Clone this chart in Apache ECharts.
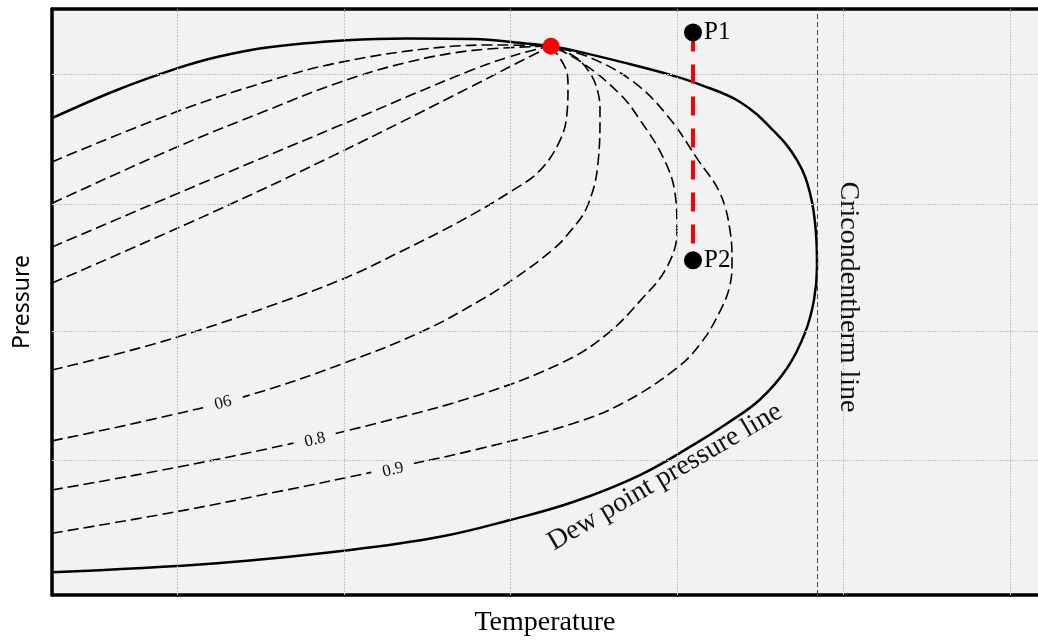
<!DOCTYPE html>
<html>
<head>
<meta charset="utf-8">
<script src="https://cdn.jsdelivr.net/npm/echarts@6/dist/echarts.min.js"></script>
<style>
  html, body { margin: 0; padding: 0; background: #fff; }
  #main { width: 1038px; height: 642px; }
</style>
</head>
<body>
<div id="main"></div>
<script>
// grid line positions (axis units)
const gridX = [12.5, 29.2, 45.8, 62.5, 79.1, 95.8]
const gridY = [22.5, 44.0, 65.2, 86.8]
const cricondentherm = 76.5

// phase envelope (bubble point + dew point curve)
const envelope = [
    [0, 79.5], [6.5, 84.2], [12.5, 87.8], [16.5, 89.7], [21.5, 91.3], [29.5, 92.5],
    [35.5, 92.8], [42.1, 92.7], [47.1, 92.0], [49.9, 91.5], [52.1, 90.8], [57.1, 88.8],
    [62.1, 86.6], [64.8, 85.1], [68.8, 82.2], [72.1, 77.5], [74.5, 72.5], [75.8, 67.0],
    [76.4, 60.3], [76.5, 54.7], [76.2, 49.2], [75.3, 43.7], [73.5, 37.8], [70.8, 32.6],
    [67.5, 28.6], [64.3, 25.2], [58.8, 20.0], [52.1, 15.5], [45.8, 12.5], [38.8, 9.7],
    [29.8, 7.5], [16.5, 5.3], [0, 3.8]
]

// quality lines, all meeting at the critical point
const lineA = [[0, 72.2], [12.5, 80.6], [21.5, 85.6], [28.8, 88.8], [38.8, 91.3], [44.8, 91.7], [49.9, 91.5]]
const lineB = [[0, 65.3], [12.5, 74.7], [21.5, 80.8], [28.8, 85.5], [35.5, 88.8], [42.1, 90.8], [49.9, 91.5]]
const lineC = [[0, 58.0], [12.5, 66.9], [28.8, 78.3], [42.1, 87.6], [47.1, 90.4], [49.9, 91.5]]
const lineD = [[0, 52.0], [15.8, 63.6], [28.8, 73.8], [42.1, 84.9], [47.1, 89.2], [49.9, 91.5]]
const lineE = [
    [0, 37.5], [8.8, 41.2], [14.8, 44.2], [21.5, 48.0], [29.1, 52.7], [34.8, 57.2],
    [40.8, 62.3], [46.1, 67.5], [48.8, 70.8], [50.8, 75.8], [51.5, 80.3], [51.6, 85.0],
    [51.3, 88.0], [49.9, 91.5]
]
const line06 = [
    [0, 25.7], [9.8, 29.2], [19.5, 33.2], [29.1, 38.6], [37.1, 44.0], [42.8, 49.1],
    [46.1, 52.6], [50.1, 57.6], [51.8, 60.6], [53.5, 64.7], [54.6, 72.0], [54.8, 80.3],
    [54.6, 83.8], [53.8, 87.0], [52.3, 89.7], [49.9, 91.5]
]
const line08 = [
    [0, 17.5], [12.5, 21.3], [23.8, 25.2], [33.1, 28.9], [42.8, 33.4], [51.1, 38.8],
    [55.5, 43.5], [58.9, 49.2], [61.5, 54.7], [62.5, 60.8], [62.3, 67.0], [61.1, 73.0],
    [58.8, 79.2], [56.8, 83.5], [52.8, 89.0], [49.9, 91.5]
]
const line09 = [
    [0, 10.3], [12.5, 13.9], [23.1, 17.4], [31.8, 20.4], [42.8, 24.4], [52.1, 28.6],
    [57.1, 32.0], [62.3, 37.6], [64.8, 41.8], [66.8, 47.3], [67.8, 51.7], [68.0, 55.5],
    [67.8, 60.8], [66.8, 67.0], [64.7, 72.3], [61.5, 80.0], [58.1, 85.6], [53.8, 89.6],
    [49.9, 91.5]
]

const criticalPoint = [49.9, 91.5]
const pointNames = ['P1', 'P2']
const pointValues = [[64.1, 93.8], [64.1, 55.8]]

const serif = '"Liberation Serif", "Times New Roman", serif'

function dashedLine(data) {
    return {
        type: 'line',
        data: data,
        smooth: 0.4,
        showSymbol: false,
        silent: true,
        z: 3,
        lineStyle: { color: '#000', width: 1.6, type: [11, 5] }
    }
}

function plainAxis(extra) {
    return Object.assign({
        type: 'value',
        axisLine: { show: true, onZero: false, lineStyle: { color: '#000', width: 3.5 } },
        axisTick: { show: false },
        axisLabel: { show: false },
        splitLine: { show: false }
    }, extra)
}

const chart = echarts.init(document.getElementById('main'))

chart.setOption({
    animation: false,
    backgroundColor: '#fff',
    grid: { left: 52, right: 0, top: 9, bottom: 47, show: true, backgroundColor: '#f2f2f2', borderWidth: 0 },
    xAxis: [
        plainAxis({
            min: 0, max: 98.6, position: 'bottom',
            name: 'Temperature', nameLocation: 'middle', nameGap: 14,
            nameTextStyle: { fontFamily: serif, fontSize: 28, color: '#000' }
        }),
        plainAxis({ min: 0, max: 98.6, position: 'top' })
    ],
    yAxis: plainAxis({
        min: 0, max: 97.7,
        name: 'Pressure', nameLocation: 'middle', nameRotate: 90, nameGap: 18,
        nameTextStyle: { fontFamily: '"Noto Sans", sans-serif', fontSize: 23, color: '#000' }
    }),
    series: [
        {
            type: 'line', data: [], z: 1, silent: true,
            markLine: {
                silent: true, symbol: ['none', 'none'], label: { show: false },
                lineStyle: { color: '#c4c4c4', width: 1, type: [2, 1] },
                data: gridX.map(v => ({ xAxis: v })).concat(gridY.map(v => ({ yAxis: v })))
            }
        },
        {
            type: 'line', data: [], z: 2, silent: true,
            markLine: {
                silent: true, symbol: ['none', 'none'], label: { show: false },
                lineStyle: { color: '#444', width: 1, type: [5, 3] },
                data: [{ xAxis: cricondentherm }]
            }
        },
        {
            type: 'line', data: envelope, smooth: 0.4, showSymbol: false, silent: true, z: 4,
            lineStyle: { color: '#000', width: 2.5 }
        },
        dashedLine(lineA),
        dashedLine(lineB),
        dashedLine(lineC),
        dashedLine(lineD),
        dashedLine(lineE),
        dashedLine(line06),
        dashedLine(line08),
        dashedLine(line09),
        {
            type: 'line', data: pointValues, showSymbol: false, silent: true, z: 5,
            lineStyle: { color: '#ff0000', width: 4, type: [19, 13] }
        },
        {
            type: 'scatter', data: [criticalPoint], symbolSize: 17, z: 6, silent: true,
            itemStyle: { color: '#ff0000', opacity: 1 }
        },
        {
            type: 'scatter', z: 6, silent: true, symbolSize: 18,
            data: pointNames.map((n, i) => ({ name: n, value: pointValues[i] })),
            itemStyle: { color: '#000', opacity: 1 },
            label: {
                show: true, position: 'right', distance: 2, formatter: '{b}',
                fontFamily: serif, fontSize: 25, color: '#000'
            }
        }
    ],
    graphic: [
        {
            type: 'text', x: 223, y: 403, rotation: 0.26, z: 100,
            style: { text: '06', align: 'center', verticalAlign: 'middle', font: '17px ' + serif, fill: '#111', backgroundColor: '#f2f2f2', padding: [1, 12] }
        },
        {
            type: 'text', x: 315, y: 440, rotation: 0.23, z: 100,
            style: { text: '0.8', align: 'center', verticalAlign: 'middle', font: '17px ' + serif, fill: '#111', backgroundColor: '#f2f2f2', padding: [1, 11] }
        },
        {
            type: 'text', x: 393, y: 470, rotation: 0.24, z: 100,
            style: { text: '0.9', align: 'center', verticalAlign: 'middle', font: '17px ' + serif, fill: '#111', backgroundColor: '#f2f2f2', padding: [1, 11] }
        },
        {
            type: 'text', x: 848, y: 297, rotation: -Math.PI / 2, z: 100,
            style: { text: 'Cricondentherm line', align: 'center', verticalAlign: 'middle', font: '28px ' + serif, fill: '#111' }
        },
        {
            type: 'text', x: 665, y: 477, rotation: 0.53, z: 100,
            style: { text: 'Dew point pressure line', align: 'center', verticalAlign: 'middle', font: '28px ' + serif, fill: '#111' }
        }
    ]
})
</script>
</body>
</html>
